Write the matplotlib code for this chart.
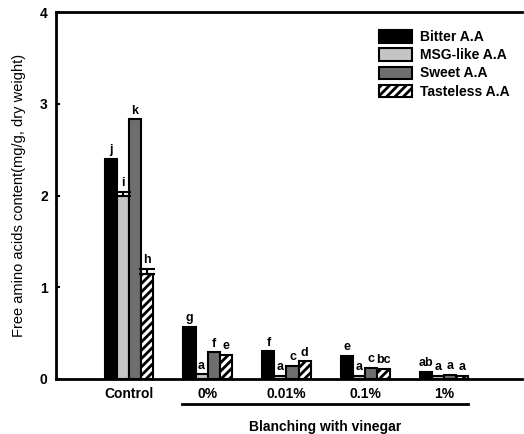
import matplotlib.pyplot as plt
import numpy as np

plt.rcParams['font.family'] = ['Liberation Sans', 'DejaVu Sans']

groups = ['Control', '0%', '0.01%', '0.1%', '1%']
series = ['Bitter A.A', 'MSG-like A.A', 'Sweet A.A', 'Tasteless A.A']
bitter = [2.40, 0.57, 0.30, 0.25, 0.08]
msg = [2.00, 0.05, 0.03, 0.03, 0.03]
sweet = [2.83, 0.29, 0.14, 0.12, 0.04]
tasteless = [1.14, 0.26, 0.19, 0.11, 0.03]
err_msg = [0.04, 0.0, 0.0, 0.0, 0.0]
err_tasteless = [0.06, 0.0, 0.0, 0.0, 0.0]
letters = [['j', 'g', 'f', 'e', 'ab'],
           ['i', 'a', 'a', 'a', 'a'],
           ['k', 'f', 'c', 'c', 'a'],
           ['h', 'e', 'd', 'bc', 'a']]

fig = plt.figure(figsize=(5.24, 4.34), dpi=100)
ax = fig.add_axes([0.107, 0.127, 0.89, 0.845])

x = np.arange(len(groups))
w = 0.153
vals = [bitter, msg, sweet, tasteless]
errs = [None, err_msg, None, err_tasteless]
colors = ['black', '#c4c4c4', '#6e6e6e', 'white']
hatches = [None, None, None, '////']

plt.rcParams['hatch.linewidth'] = 2.0
for i in range(4):
    pos = x + (i - 1.5) * w
    ax.bar(pos, vals[i], w, color=colors[i], edgecolor='black', linewidth=1.5,
           hatch=hatches[i], label=series[i], zorder=2)
    if errs[i] is not None:
        e = np.array(errs[i])
        m = e > 0
        ax.errorbar(pos[m], np.array(vals[i])[m], yerr=[np.zeros(m.sum()), e[m]], fmt='none',
                    ecolor='black', elinewidth=1.5, capsize=6, capthick=1.5, zorder=3)
    for j in range(len(groups)):
        top = vals[i][j] + (errs[i][j] if errs[i] is not None else 0)
        ax.text(pos[j], top + 0.03, letters[i][j], ha='center', va='bottom',
                fontsize=9, fontweight='bold')

ax.set_xlim(-0.92, 4.99)
ax.set_ylim(0, 4)
ax.set_yticks([0, 1, 2, 3, 4])
ax.set_xticks(x)
ax.set_xticklabels(groups, fontweight='bold', fontsize=10)
for t in ax.get_yticklabels():
    t.set_fontweight('bold')
    t.set_fontsize(10)
ax.tick_params(axis='y', direction='in', length=3, width=1.5, pad=6)
ax.tick_params(axis='x', length=0, pad=6)
for s in ax.spines.values():
    s.set_linewidth(2)
ax.spines['right'].set_visible(False)
ax.set_ylabel('Free amino acids content(mg/g, dry weight)', fontsize=10.5, labelpad=10)

ax.legend(loc='upper right', bbox_to_anchor=(1.0, 0.985), frameon=False,
          prop={'weight': 'bold', 'size': 10}, handlelength=2.4, handleheight=1.0,
          labelspacing=0.3, handletextpad=0.6)

fig.add_artist(plt.Line2D([182 / 524, 468 / 524], [1 - 404 / 434, 1 - 404 / 434],
                          color='black', linewidth=2))
fig.text(325 / 524, 1 - 427 / 434, 'Blanching with vinegar', ha='center', va='center',
         fontsize=10, fontweight='bold')

fig.savefig('out.png', dpi=100)
